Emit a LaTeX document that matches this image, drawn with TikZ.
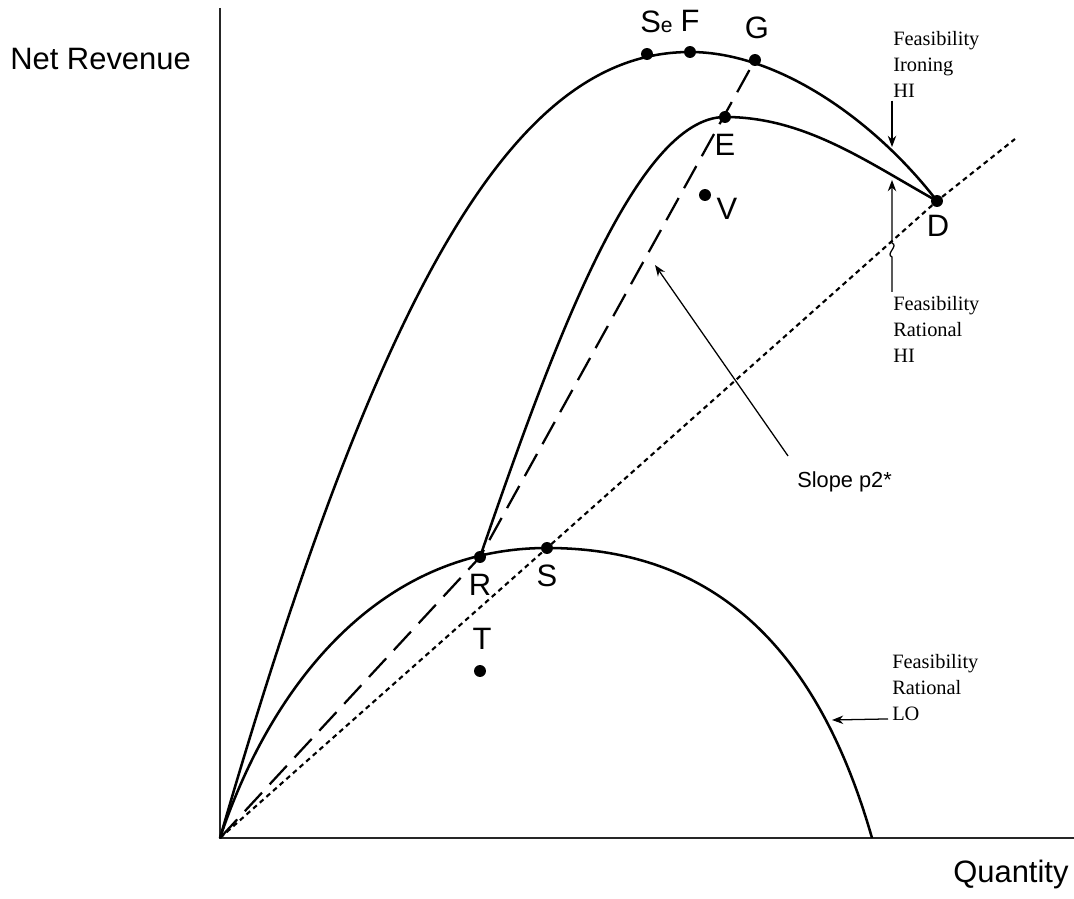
\documentclass[tikz,border=0pt]{standalone}
\usepackage{fontspec}
\setmainfont{Liberation Sans}
\newfontfamily\tmsfont{Liberation Serif}
\usetikzlibrary{arrows.meta}

\tikzset{
curve/.style={line width=1.8pt},
pt/.style={circle,fill,inner sep=0pt,minimum size=8.5pt},
lbl/.style={font=\fontsize{22}{26}\selectfont,inner sep=0pt,anchor=base},
note/.style={font=\tmsfont\fontsize{14.5}{18.5}\selectfont,align=left,inner sep=0pt,anchor=north west},
arr/.style={line width=0.9pt,-{Stealth[length=8pt,width=6pt]}}
}

\begin{document}
\begin{tikzpicture}[x=0.025cm,y=-0.025cm]
\useasboundingbox (0,0) rectangle (1074,899);
%axes
\coordinate (O) at (220,838);
\draw[line width=1pt,black!85] (220,8) -- (O) -- (1074,838);
\node[lbl,anchor=base west] (ylbl) at (10,70) {Net Revenue};
\node[lbl,anchor=base west] (xlbl) at (953,882) {Quantity};
%points
\node[pt] (Se) at (647,54) {};
\node[pt] (F) at (690,52) {};
\node[pt] (G) at (755,60) {};
\node[pt] (E) at (725,117) {};
\node[pt] (V) at (705,195) {};
\node[pt] (D) at (937,201) {};
\node[pt] (R) at (480,557) {};
\node[pt] (S) at (547,548) {};
\node[pt] (T) at (480,671) {};
\coordinate (dotEnd) at (1015,139);
\coordinate (lowEnd) at (872,838);
%straight lines
\draw[line width=1.5pt,dash pattern=on 3.5pt off 2.8pt] (O) -- (S.center) -- (D.center) -- (dotEnd);
\draw[line width=1.6pt,dash pattern=on 18pt off 8pt] (O) -- (R.center) -- (G.center);
%upper curve
\draw[curve] (O) .. controls (385,268) and (520,52) .. (F.center)
  .. controls (780,52) and (877,123) .. (D.center);
%middle curve
\draw[curve] (R.center) .. controls (550,354) and (635,117) .. (E.center)
  .. controls (805,117) and (867,162) .. (D.center);
%lower curve
\draw[curve] (O) .. controls (270,688) and (377,548) .. (S.center)
  .. controls (697,548) and (812,628) .. (lowEnd);
%point labels
\node[lbl,anchor=base west] (lSe) at (640,33) {S{\fontsize{15}{15}\selectfont e}};
\node[lbl] (lF) at (690,32) {F};
\node[lbl] (lG) at (757,39) {G};
\node[lbl] (lE) at (725,156) {E};
\node[lbl] (lV) at (727,220) {V};
\node[lbl] (lD) at (938,237) {D};
\node[lbl] (lR) at (480,595) {R};
\node[lbl] (lS) at (547,586) {S};
\node[lbl] (lT) at (482,649) {T};
%notes
\node[note] (ironlbl) at (893,31) {Feasibility\\Ironing\\HI};
\node[note] (rathilbl) at (893,296) {Feasibility\\Rational\\HI};
\node[note] (ratlolbl) at (892,654) {Feasibility\\Rational\\LO};
\node[lbl,anchor=base west,font=\fontsize{15.5}{18}\selectfont] (slopelbl) at (797,488) {Slope p2*};
\coordinate (ironTip) at (892,147);
\coordinate (ratTip) at (892,180);
\coordinate (loTip) at (832,720);
\coordinate (slopeTip) at (655,265);
\draw[arr] (ironTip |- ironlbl.south) ++(0,3) -- (ironTip);
\draw[arr] (ratTip |- rathilbl.north) ++(0,-4) -- ++(0,-35)
  .. controls +(-7,-3) and +(7,3) .. ++(0,-14) -- (ratTip);
\draw[arr] (ratlolbl.south west) ++(-4,-2) -- (loTip);
\draw[arr] ([shift={(-9,-16)}]slopelbl.north west) -- (slopeTip);
\end{tikzpicture}
\end{document}
